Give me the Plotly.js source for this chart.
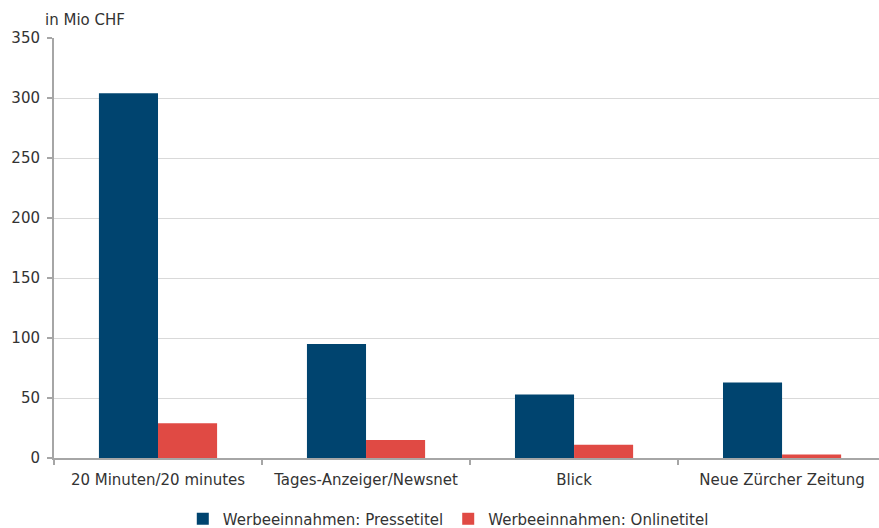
<!DOCTYPE html>
<html>
<head>
<meta charset="utf-8">
<script src="https://cdn.plot.ly/plotly-3.0.1.min.js"></script>
<style>html,body{margin:0;padding:0;background:#fff;}#chart{width:879px;height:528px;}</style>
</head>
<body>
<div id="chart"></div>
<script>
const categories = ["20 Minuten/20 minutes", "Tages-Anzeiger/Newsnet", "Blick", "Neue Zürcher Zeitung"];
const presseValues = [304, 95, 53, 63];
const onlineValues = [29, 15, 11, 3];
const seriesNames = ["Werbeeinnahmen: Pressetitel", "Werbeeinnahmen: Onlinetitel"];
const yTicks = [0, 50, 100, 150, 200, 250, 300, 350];

const font = "'DejaVu Sans', 'Open Sans', sans-serif";
const data = [
  {type: "bar", x: categories, y: presseValues, name: seriesNames[0],
   marker: {color: "#00446f"}},
  {type: "bar", x: categories, y: onlineValues, name: seriesNames[1],
   marker: {color: "#e04a44"}}
];
const layout = {
  width: 879, height: 528,
  margin: {l: 54, r: 0, t: 38, b: 70, autoexpand: false},
  paper_bgcolor: "#fff", plot_bgcolor: "#fff",
  font: {family: font, size: 15, color: "#333"},
  barmode: "group", bargap: 0.432, bargroupgap: 0,
  showlegend: true,
  legend: {orientation: "h", x: 0.51, xanchor: "center", xref: "container",
           y: 0.017, yanchor: "middle", yref: "container",
           font: {size: 15, color: "#333"}, itemwidth: 30, tracegroupgap: 0},
  xaxis: {range: [-0.5, 3.466], showgrid: false, showline: true, linecolor: "#a6a6a6", linewidth: 2,
          ticks: "outside", tickson: "boundaries", ticklen: 5, tickcolor: "#a6a6a6", tickwidth: 2,
          ticklabelstandoff: 7,
          tickfont: {size: 15, color: "#333"}, automargin: false},
  yaxis: {range: [0, 350], tickvals: yTicks, showgrid: true, gridcolor: "#d9d9d9", gridwidth: 1,
          showline: true, linecolor: "#a6a6a6", linewidth: 2, zeroline: false,
          ticks: "outside", ticklen: 5, tickcolor: "#a6a6a6", tickwidth: 2,
          ticklabelstandoff: 4,
          tickfont: {size: 15, color: "#333"}, automargin: false},
  annotations: [{text: "in Mio CHF", xref: "paper", yref: "paper", x: -0.013, y: 1.017,
                 xanchor: "left", yanchor: "bottom", showarrow: false,
                 font: {size: 15, color: "#333"}}]
};
Plotly.newPlot("chart", data, layout, {displayModeBar: false, staticPlot: true});
</script>
</body>
</html>
